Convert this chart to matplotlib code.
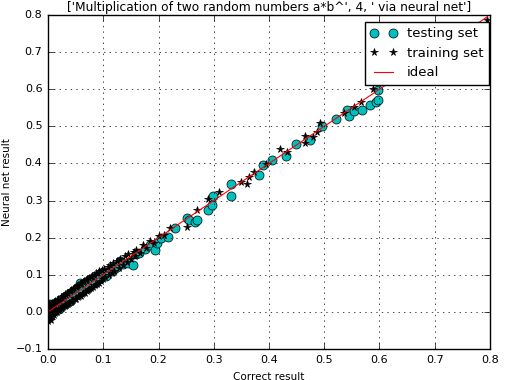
import matplotlib
matplotlib.use("Agg")
import matplotlib.pyplot as plt

plt.style.use('classic')
plt.rcParams['figure.facecolor'] = 'white'
plt.rcParams['font.family'] = ['DejaVu Sans']

title = "['Multiplication of two random numbers a*b^', 4, ' via neural net']"

# training set (black stars)
train_x = [0.000, 0.000, 0.001, 0.002, 0.002, 0.003, 0.004, 0.005, 0.005, 0.006,
           0.007, 0.008, 0.009, 0.010, 0.010, 0.011, 0.012, 0.013, 0.014, 0.015,
           0.016, 0.017, 0.018, 0.019, 0.020, 0.021, 0.022, 0.023, 0.024, 0.025,
           0.026, 0.027, 0.028, 0.029, 0.030, 0.031, 0.032, 0.033, 0.034, 0.035,
           0.036, 0.037, 0.038, 0.040, 0.041, 0.042, 0.043, 0.045, 0.046, 0.047,
           0.048, 0.050, 0.051, 0.052, 0.054, 0.055, 0.056, 0.058, 0.059, 0.060,
           0.062, 0.063, 0.064, 0.066, 0.067, 0.068, 0.070, 0.071, 0.072, 0.074,
           0.075, 0.077, 0.078, 0.080, 0.082, 0.083, 0.085, 0.087, 0.088, 0.090,
           0.092, 0.093, 0.096, 0.098, 0.100, 0.102, 0.104, 0.108, 0.110, 0.112,
           0.116, 0.118, 0.120, 0.125, 0.128, 0.130, 0.135, 0.140, 0.143, 0.145,
           0.150, 0.155, 0.158, 0.160, 0.166, 0.172, 0.178, 0.185, 0.192, 0.200,
           0.210, 0.221, 0.251, 0.269, 0.290, 0.310, 0.349, 0.360, 0.363, 0.373,
           0.395, 0.420, 0.432, 0.465, 0.466, 0.480, 0.486, 0.492, 0.536, 0.553,
           0.567, 0.589, 0.795]
train_y = [-0.025, 0.014, -0.012, 0.020, -0.020, 0.008, -0.010, 0.021, -0.022, 0.002,
           0.024, -0.010, 0.010, 0.027, -0.008, 0.017, -0.004, 0.030, 0.000, 0.024,
           0.000, 0.032, 0.004, 0.036, 0.004, 0.030, 0.008, 0.040, 0.010, 0.036,
           0.010, 0.044, 0.014, 0.042, 0.016, 0.048, 0.018, 0.046, 0.020, 0.052,
           0.022, 0.050, 0.024, 0.056, 0.026, 0.058, 0.030, 0.062, 0.032, 0.064,
           0.034, 0.068, 0.036, 0.070, 0.040, 0.072, 0.042, 0.076, 0.044, 0.078,
           0.048, 0.080, 0.050, 0.084, 0.052, 0.086, 0.056, 0.088, 0.058, 0.092,
           0.062, 0.094, 0.064, 0.098, 0.068, 0.100, 0.072, 0.104, 0.074, 0.106,
           0.078, 0.110, 0.084, 0.114, 0.088, 0.116, 0.094, 0.122, 0.100, 0.126,
           0.106, 0.132, 0.110, 0.138, 0.118, 0.142, 0.126, 0.150, 0.134, 0.156,
           0.142, 0.162, 0.150, 0.168, 0.160, 0.180, 0.172, 0.190, 0.186, 0.205,
           0.208, 0.226, 0.230, 0.275, 0.305, 0.323, 0.349, 0.344, 0.363, 0.376,
           0.398, 0.440, 0.432, 0.473, 0.456, 0.471, 0.486, 0.508, 0.537, 0.553,
           0.565, 0.601, 0.787]

# testing set (cyan circles)
test_x = [0.002, 0.003, 0.005, 0.008, 0.010, 0.012, 0.015, 0.020, 0.025, 0.030,
          0.035, 0.040, 0.045, 0.050, 0.055, 0.058, 0.062, 0.070, 0.075, 0.080,
          0.085, 0.090, 0.095, 0.100, 0.105, 0.115, 0.120, 0.125, 0.130, 0.135,
          0.145, 0.154, 0.160, 0.165, 0.175, 0.185, 0.194, 0.197, 0.205, 0.218,
          0.230, 0.251, 0.255, 0.266, 0.269, 0.290, 0.296, 0.299, 0.332, 0.332,
          0.382, 0.390, 0.405, 0.431, 0.448, 0.474, 0.496, 0.521, 0.541, 0.545,
          0.553, 0.568, 0.582, 0.594, 0.597, 0.597, 0.800]
test_y = [0.020, -0.012, 0.015, 0.022, 0.005, 0.018, 0.025, 0.008, 0.030, 0.020,
          0.040, 0.030, 0.050, 0.045, 0.060, 0.079, 0.055, 0.075, 0.068, 0.085,
          0.078, 0.095, 0.090, 0.106, 0.098, 0.109, 0.115, 0.120, 0.136, 0.130,
          0.132, 0.127, 0.155, 0.160, 0.170, 0.180, 0.167, 0.185, 0.200, 0.203,
          0.225, 0.253, 0.247, 0.243, 0.248, 0.275, 0.288, 0.311, 0.345, 0.313,
          0.368, 0.395, 0.408, 0.421, 0.452, 0.462, 0.501, 0.520, 0.544, 0.528,
          0.540, 0.544, 0.558, 0.565, 0.571, 0.598, 0.695]

ideal_x = [0.0, 0.795]
ideal_y = [0.0, 0.795]

fig = plt.figure(figsize=(5.17, 3.80), dpi=100)
ax = fig.add_axes([48/517, 1-349/380, 442/517, 334/380])

ax.plot(test_x, test_y, 'o', color='c', markersize=6.5, markeredgewidth=0.5,
        markeredgecolor='k', label='testing set')
ax.plot(train_x, train_y, '*', color='k', markersize=5.5, markeredgewidth=0.5,
        label='training set')
ax.plot(ideal_x, ideal_y, '-', color='r', linewidth=0.8, label='ideal')

ax.set_xlim(0.0, 0.8)
ax.set_ylim(-0.1, 0.8)
ax.set_xticks([0.0, 0.1, 0.2, 0.3, 0.4, 0.5, 0.6, 0.7, 0.8])
ax.set_yticks([-0.1, 0.0, 0.1, 0.2, 0.3, 0.4, 0.5, 0.6, 0.7, 0.8])
ax.tick_params(labelsize=8)
ax.grid(True)
ax.set_xlabel('Correct result', fontsize=7.5)
ax.set_ylabel('Neural net result', fontsize=7.5)
ax.yaxis.set_label_coords(-0.082, 0.5)
ax.set_title(title, fontsize=8.8, pad=3)
ax.legend(loc='upper right', numpoints=2, fontsize=9.5, borderaxespad=0,
          bbox_to_anchor=(1 - 1/442, 1 - 7/334))

fig.savefig('out.png', dpi=100, facecolor='white')
